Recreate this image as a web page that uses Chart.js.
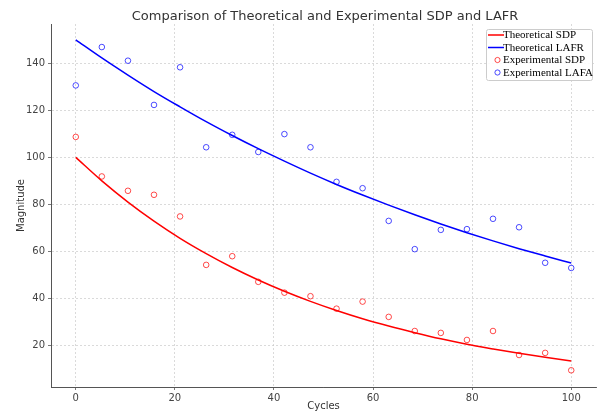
<!DOCTYPE html>
<html>
<head>
<meta charset="utf-8">
<script src="https://cdn.jsdelivr.net/npm/chart.js@4.4.0/dist/chart.umd.min.js"></script>
<style>
  html, body { margin: 0; padding: 0; background: #ffffff; }
  #wrap { width: 601px; height: 414px; position: relative; }
</style>
</head>
<body>
<div id="wrap"><canvas id="c" width="601" height="414"></canvas></div>
<script>
const titleText = "Comparison of Theoretical and Experimental SDP and LAFR";
const cycles = [0, 5.26, 10.53, 15.79, 21.05, 26.32, 31.58, 36.84, 42.11, 47.37,
                52.63, 57.89, 63.16, 68.42, 73.68, 78.95, 84.21, 89.47, 94.74, 100];
const theoreticalSDP = [100, 90.0, 81.0, 72.9, 65.6, 59.1, 53.2, 47.9, 43.1, 38.8,
                        34.9, 31.4, 28.3, 25.5, 22.9, 20.6, 18.6, 16.7, 15.0, 13.5];
const theoreticalLAFR = [150, 142.3, 135.0, 128.0, 121.5, 115.2, 109.3, 103.7, 98.4, 93.3,
                         88.5, 84.0, 79.7, 75.6, 71.7, 68.0, 64.5, 61.2, 58.1, 55.1];
const experimentalSDP = [108.7, 91.9, 85.8, 84.1, 74.9, 54.3, 58.0, 47.1, 42.5, 41.0,
                         35.7, 38.7, 32.2, 26.2, 25.4, 22.4, 26.2, 16.0, 16.9, 9.5];
const experimentalLAFA = [130.6, 146.9, 141.1, 122.3, 138.3, 104.3, 109.6, 102.3, 109.9, 104.3,
                          89.6, 86.9, 73.0, 61.0, 69.2, 69.5, 73.9, 70.3, 55.2, 53.0];
const xTicks = [0, 20, 40, 60, 80, 100];
const yTicks = [20, 40, 60, 80, 100, 120, 140];
const labels = ["Theoretical SDP", "Theoretical LAFR", "Experimental SDP", "Experimental LAFA"];

const pts = (ys) => cycles.map((x, i) => ({ x: x, y: ys[i] }));

const gridCfg = {
  color: 'rgba(200,200,200,0.85)',
  lineWidth: 0.8,
  tickColor: '#555555',
  tickLength: 3,
  tickBorderDash: [],
  tickWidth: 0.8,
  drawOnChartArea: true
};
const borderCfg = { display: true, color: '#555555', width: 1, dash: [2, 2] };

const customPlugin = {
  id: 'custom',
  afterDraw(chart) {
    const ctx = chart.ctx;
    ctx.save();
    // title
    ctx.fillStyle = '#333333';
    ctx.font = '13px "DejaVu Sans"';
    ctx.textAlign = 'center';
    ctx.textBaseline = 'middle';
    ctx.fillText(titleText, 325, 17);
    // legend
    const bx = 486.5, by = 29.5, bw = 106, bh = 51;
    ctx.beginPath();
    ctx.roundRect(bx, by, bw, bh, 2);
    ctx.fillStyle = 'rgba(255,255,255,0.9)';
    ctx.fill();
    ctx.strokeStyle = '#cccccc';
    ctx.lineWidth = 1;
    ctx.stroke();
    const rows = [35, 47.5, 60, 72.5];
    ctx.font = '11px "Liberation Serif"';
    ctx.textAlign = 'left';
    ctx.textBaseline = 'middle';
    chart.data.datasets.forEach((ds, i) => {
      const y = rows[i];
      if (ds.showLine) {
        ctx.strokeStyle = ds.borderColor;
        ctx.lineWidth = 1.5;
        ctx.beginPath();
        ctx.moveTo(488, y);
        ctx.lineTo(504, y);
        ctx.stroke();
      } else {
        ctx.strokeStyle = ds.borderColor;
        ctx.lineWidth = 1;
        ctx.beginPath();
        ctx.arc(497.5, y, 2.6, 0, Math.PI * 2);
        ctx.stroke();
      }
      ctx.fillStyle = '#000000';
      ctx.fillText(ds.label, 503, y + 0.5);
    });
    ctx.restore();
  }
};

new Chart(document.getElementById('c'), {
  type: 'scatter',
  data: {
    datasets: [
      { label: labels[0], data: pts(theoreticalSDP), showLine: true, borderColor: '#ff0000',
        backgroundColor: '#ff0000', borderWidth: 1.5, pointRadius: 0, tension: 0.4, cubicInterpolationMode: 'monotone' },
      { label: labels[1], data: pts(theoreticalLAFR), showLine: true, borderColor: '#0000ff',
        backgroundColor: '#0000ff', borderWidth: 1.5, pointRadius: 0, tension: 0.4, cubicInterpolationMode: 'monotone' },
      { label: labels[2], data: pts(experimentalSDP), showLine: false, borderColor: 'rgba(255,0,0,0.7)',
        backgroundColor: 'rgba(0,0,0,0)', borderWidth: 1, pointRadius: 2.8 },
      { label: labels[3], data: pts(experimentalLAFA), showLine: false, borderColor: 'rgba(0,0,255,0.7)',
        backgroundColor: 'rgba(0,0,0,0)', borderWidth: 1, pointRadius: 2.8 }
    ]
  },
  options: {
    responsive: false,
    animation: false,
    devicePixelRatio: 1,
    layout: { padding: { left: 0, right: 4, top: 24, bottom: 0 } },
    plugins: {
      legend: { display: false },
      title: { display: false },
      tooltip: { enabled: false }
    },
    scales: {
      x: {
        type: 'linear',
        min: -5, max: 105,
        grid: gridCfg,
        border: borderCfg,
        ticks: { color: '#444444', font: { family: '"DejaVu Sans"', size: 10 }, padding: 2, maxRotation: 0 },
        afterBuildTicks: (s) => { s.ticks = xTicks.map(v => ({ value: v })); },
        afterFit: (s) => { s.height = 27; },
        title: { display: true, text: 'Cycles', color: '#333333',
                 font: { family: '"DejaVu Sans"', size: 10 }, padding: { top: 0, bottom: 2 } }
      },
      y: {
        type: 'linear',
        min: 2.4, max: 156.7,
        grid: gridCfg,
        border: borderCfg,
        ticks: { color: '#444444', font: { family: '"DejaVu Sans"', size: 10 }, padding: 3 },
        afterBuildTicks: (s) => { s.ticks = yTicks.map(v => ({ value: v })); },
        afterFit: (s) => { s.width = 51; },
        title: { display: true, text: 'Magnitude', color: '#333333',
                 font: { family: '"DejaVu Sans"', size: 10 }, padding: { top: 15, bottom: 0 } }
      }
    }
  },
  plugins: [customPlugin]
});
</script>
</body>
</html>
